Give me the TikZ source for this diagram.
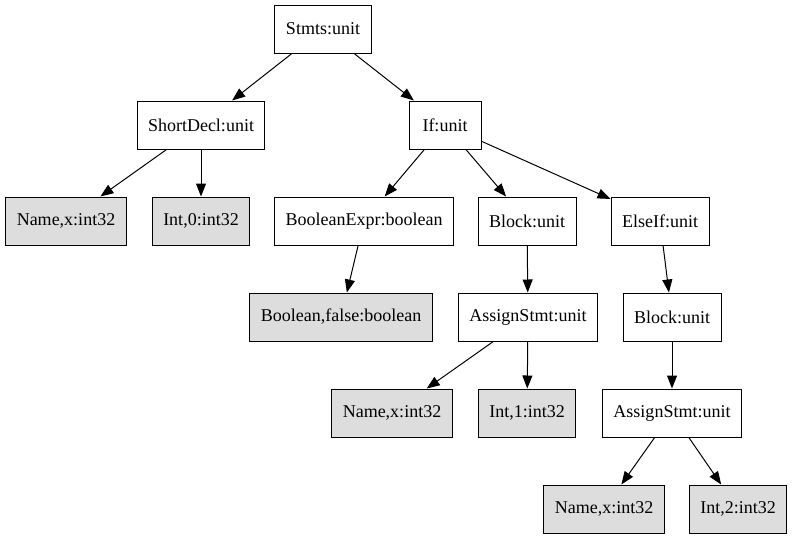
\documentclass[tikz,border=0pt]{standalone}
\usepackage{fontspec}
\setmainfont{Liberation Serif}
\usetikzlibrary{arrows.meta}
\definecolor{leafgray}{RGB}{221,221,221}
\tikzset{
  tnode/.style={draw=black, line width=1pt, rectangle, minimum height=48pt, minimum width=72pt,
    inner xsep=11pt, inner ysep=0pt, font=\fontsize{18}{20}\selectfont, fill=white},
  leaf/.style={tnode, fill=leafgray},
  edge/.style={draw=black, line width=1pt, -{Triangle[length=13pt,width=10pt]}}
}
\begin{document}
\begin{tikzpicture}[x=1pt,y=-1pt]
\useasboundingbox (0,0) rectangle (792,539);
\node[tnode] (stmts) at (323,29) {Stmts:unit};
\node[tnode] (short) at (201,125) {ShortDecl:unit};
\node[tnode] (if) at (445,125) {If:unit};
\node[leaf] (name1) at (66,221) {Name,x:int32};
\node[leaf] (int0) at (201,221) {Int,0:int32};
\node[tnode] (bexpr) at (364,221) {BooleanExpr:boolean};
\node[tnode] (block1) at (527,221) {Block:unit};
\node[tnode] (elseif) at (660,221) {ElseIf:unit};
\node[leaf] (bfalse) at (341,317) {Boolean,false:boolean};
\node[tnode] (assign1) at (528,317) {AssignStmt:unit};
\node[tnode] (block2) at (672,317) {Block:unit};
\node[leaf] (name2) at (392,413) {Name,x:int32};
\node[leaf] (int1) at (527,413) {Int,1:int32};
\node[tnode] (assign2) at (672,413) {AssignStmt:unit};
\node[leaf] (name3) at (604,509) {Name,x:int32};
\node[leaf] (int2) at (738,509) {Int,2:int32};
\draw[edge] (stmts) -- (short);
\draw[edge] (stmts) -- (if);
\draw[edge] (short) -- (name1);
\draw[edge] (short) -- (int0);
\draw[edge] (if) -- (bexpr);
\draw[edge] (if) -- (block1);
\draw[edge] (if) -- (elseif);
\draw[edge] (bexpr) -- (bfalse);
\draw[edge] (block1) -- (assign1);
\draw[edge] (elseif) -- (block2);
\draw[edge] (assign1) -- (name2);
\draw[edge] (assign1) -- (int1);
\draw[edge] (block2) -- (assign2);
\draw[edge] (assign2) -- (name3);
\draw[edge] (assign2) -- (int2);
\end{tikzpicture}
\end{document}
